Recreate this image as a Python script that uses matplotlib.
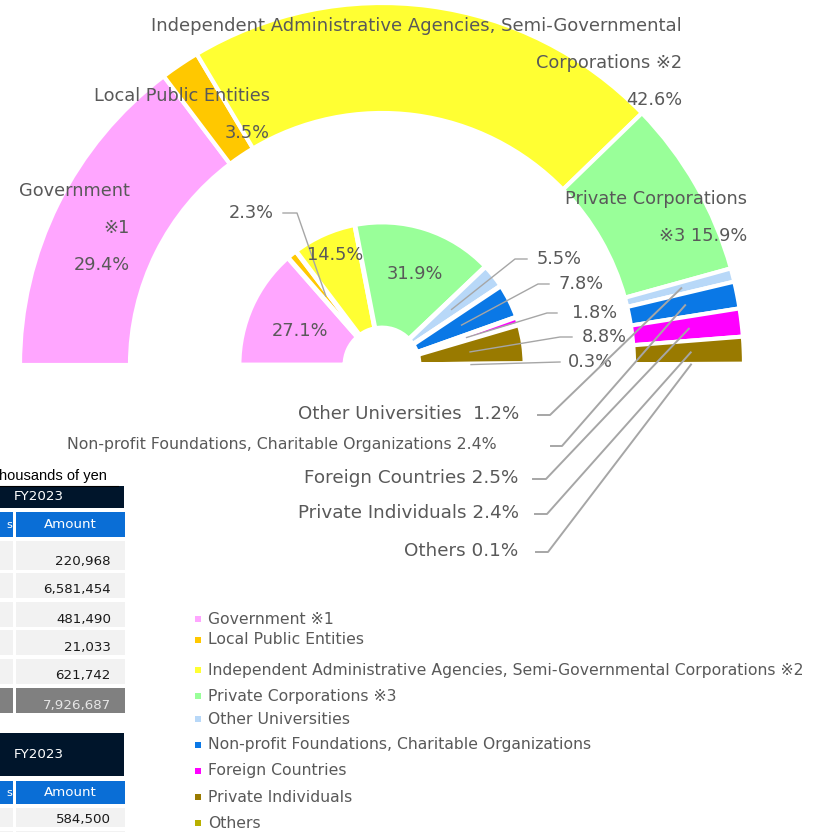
import matplotlib
matplotlib.use("Agg")
import matplotlib.pyplot as plt
from matplotlib.patches import Rectangle
import numpy as np

plt.rcParams['font.family'] = ['DejaVu Sans', 'Noto Sans CJK JP']

# ---------------- data ----------------
categories = ["Government ※1", "Local Public Entities",
              "Independent Administrative Agencies, Semi-Governmental Corporations ※2",
              "Private Corporations ※3", "Other Universities",
              "Non-profit Foundations, Charitable Organizations",
              "Foreign Countries", "Private Individuals", "Others"]
colors = ["#FFA6FF", "#FFC800", "#FFFF33", "#99FF99", "#B8D8F8",
          "#0A78E6", "#FF00FF", "#997A00", "#B8B000"]
outer_pct = [29.4, 3.5, 42.6, 15.9, 1.2, 2.4, 2.5, 2.4, 0.1]
inner_pct = [27.1, 2.3, 14.5, 31.9, 5.5, 7.8, 1.8, 8.8, 0.3]

table1_amounts = ["220,968", "6,581,454", "481,490", "21,033", "621,742"]
table1_total = "7,926,687"
table2_amounts = ["584,500"]

W, H = 821, 832
fig = plt.figure(figsize=(W / 100, H / 100), dpi=100)
ax = fig.add_axes([0, 0, 1, 1])

TXT = "#595959"
LINE = "#A6A6A6"
cx, cy = 382, 365
R_OUT, W_OUT = 362, 110
R_IN, W_IN = 143, 106

# ---------------- rings ----------------
ow, _ = ax.pie(outer_pct + [sum(outer_pct)], colors=colors + ["white"],
               startangle=180, counterclock=True, center=(cx, cy), radius=R_OUT,
               wedgeprops=dict(width=W_OUT, edgecolor="white", linewidth=3))
ow[-1].set_visible(False)
iw, _ = ax.pie(inner_pct + [sum(inner_pct)], colors=colors + ["white"],
               startangle=180, counterclock=True, center=(cx, cy), radius=R_IN,
               wedgeprops=dict(width=W_IN, edgecolor="white", linewidth=3.5))
iw[-1].set_visible(False)

ax.set_xlim(0, W)
ax.set_ylim(H, 0)
ax.set_aspect("equal")
ax.axis("off")


def mid_point(w, r):
    t = np.deg2rad((w.theta1 + w.theta2) / 2)
    return cx + r * np.cos(t), cy + r * np.sin(t)


FS = 12.8
# outer labels (right-aligned blocks)
outer_lines = [
    ("Independent Administrative Agencies, Semi-Governmental", 682, 26, 13.0),
    ("Corporations ※2", 682, 63, FS),
    (f"{outer_pct[2]}%", 682, 100, FS),
    ("Local Public Entities", 270, 96, FS),
    (f"{outer_pct[1]}%", 270, 133, FS),
    ("Government", 130, 191, FS),
    ("※1", 130, 228, FS),
    (f"{outer_pct[0]}%", 130, 265, FS),
    ("Private Corporations", 747, 199, FS),
    (f"※3 {outer_pct[3]}%", 747, 236, FS),
]
for s, x, y, fs in outer_lines:
    ax.text(x, y, s, ha="right", va="center", fontsize=fs, color=TXT, zorder=5)

# inner labels on slices
for idx, (x, y) in {0: (300, 331), 2: (335, 255), 3: (415, 274)}.items():
    ax.text(x, y, f"{inner_pct[idx]}%", ha="center", va="center",
            fontsize=FS, color=TXT, zorder=5)

# inner leader labels: idx, elbow, end, text x, ha
inner_leaders = [
    (1, (297, 213), (283, 213), 274, "right"),
    (4, (515, 259), (527, 259), 537, "left"),
    (5, (538, 284), (549, 284), 558, "left"),
    (6, (547, 313), (557, 313), 572, "left"),
    (7, (560, 337), (572, 337), 582, "left"),
    (8, (560, 362), (560, 362), 568, "left"),
]
for idx, el, en, tx, ha in inner_leaders:
    sx, sy = mid_point(iw[idx], 89)
    ax.plot([sx, el[0], en[0]], [sy, el[1], en[1]], color=LINE, lw=1.0, zorder=4)
    ax.text(tx, en[1], f"{inner_pct[idx]}%", ha=ha, va="center",
            fontsize=FS, color=TXT, zorder=5)

# outer leader labels
outer_leaders = [
    (4, (550, 415), (538, 415), 519, "Other Universities  ", 13.1),
    (5, (562, 446), (551, 446), 497, "Non-profit Foundations, Charitable Organizations ", 11.3),
    (6, (546, 479), (533, 479), 518, "Foreign Countries ", 13.2),
    (7, (547, 514), (535, 514), 519, "Private Individuals ", 13.2),
    (8, (548, 552), (536, 552), 518, "Others ", 13.2),
]
for idx, el, en, tx, name, fs in outer_leaders:
    sx, sy = mid_point(ow[idx], 309)
    ax.plot([sx, el[0], en[0]], [sy, el[1], en[1]], color=LINE, lw=1.4, zorder=6)
    ax.text(tx, en[1] - 1, f"{name}{outer_pct[idx]}%", ha="right", va="center",
            fontsize=fs, color=TXT, zorder=5)

# ---------------- legend ----------------
leg_y = [619, 640, 670, 696, 719, 745, 771, 797, 823]
for name, col, y in zip(categories, colors, leg_y):
    ax.add_patch(Rectangle((195, y - 3), 6, 6, facecolor=col, edgecolor="none"))
    ax.text(208, y, name, ha="left", va="center", fontsize=11.25, color=TXT)

# ---------------- tables (partially visible) ----------------
NAVY, BLUE, CELL, TOT = "#00152B", "#0A6ED6", "#F2F2F2", "#808080"
TF = 9.6
ax.text(107, 476, "Thousands of yen", ha="right", va="center", fontsize=10.5,
        family="Liberation Sans", color="black")
ax.plot([0, 118], [486, 486], color="black", lw=0.8)


def table(top_navy, bot_navy, head_top, head_bot, rows, amounts, total=None):
    ax.add_patch(Rectangle((0, top_navy), 124, bot_navy - top_navy, facecolor=NAVY, edgecolor="none"))
    ax.text(14, (top_navy + bot_navy) / 2, "FY2023", ha="left", va="center",
            fontsize=TF, color="white")
    ax.add_patch(Rectangle((0, head_top), 13, head_bot - head_top, facecolor=BLUE, edgecolor="none"))
    ax.add_patch(Rectangle((16, head_top), 109, head_bot - head_top, facecolor=BLUE, edgecolor="none"))
    ax.text(12, (head_top + head_bot) / 2, "s", ha="right", va="center",
            fontsize=TF - 1.5, color="white")
    ax.text(70, (head_top + head_bot) / 2, "Amount", ha="center", va="center",
            fontsize=TF, color="white")
    for (t, b), a in zip(rows, amounts):
        ax.add_patch(Rectangle((0, t), 13, b - t, facecolor=CELL, edgecolor="none"))
        ax.add_patch(Rectangle((16, t), 109, b - t, facecolor=CELL, edgecolor="none"))
        ax.text(111, b - 8, a, ha="right", va="center", fontsize=TF, color="#1A1A1A")
    if total is not None:
        t, b = total[0]
        ax.add_patch(Rectangle((0, t), 13, b - t, facecolor=TOT, edgecolor="none"))
        ax.add_patch(Rectangle((16, t), 109, b - t, facecolor=TOT, edgecolor="none"))
        ax.text(111, b - 7, total[1], ha="right", va="center", fontsize=TF, color="#E6E6E6")


table(486, 508, 512, 537,
      [(541, 570), (573, 598), (602, 627), (630, 655), (659, 684)],
      table1_amounts, total=((688, 713), table1_total))
table(733, 776, 781, 804, [(808, 827)], table2_amounts)
ax.add_patch(Rectangle((0, 831), 13, 5, facecolor=CELL, edgecolor="none"))
ax.add_patch(Rectangle((16, 831), 109, 5, facecolor=CELL, edgecolor="none"))

fig.savefig("out.png", dpi=100)
